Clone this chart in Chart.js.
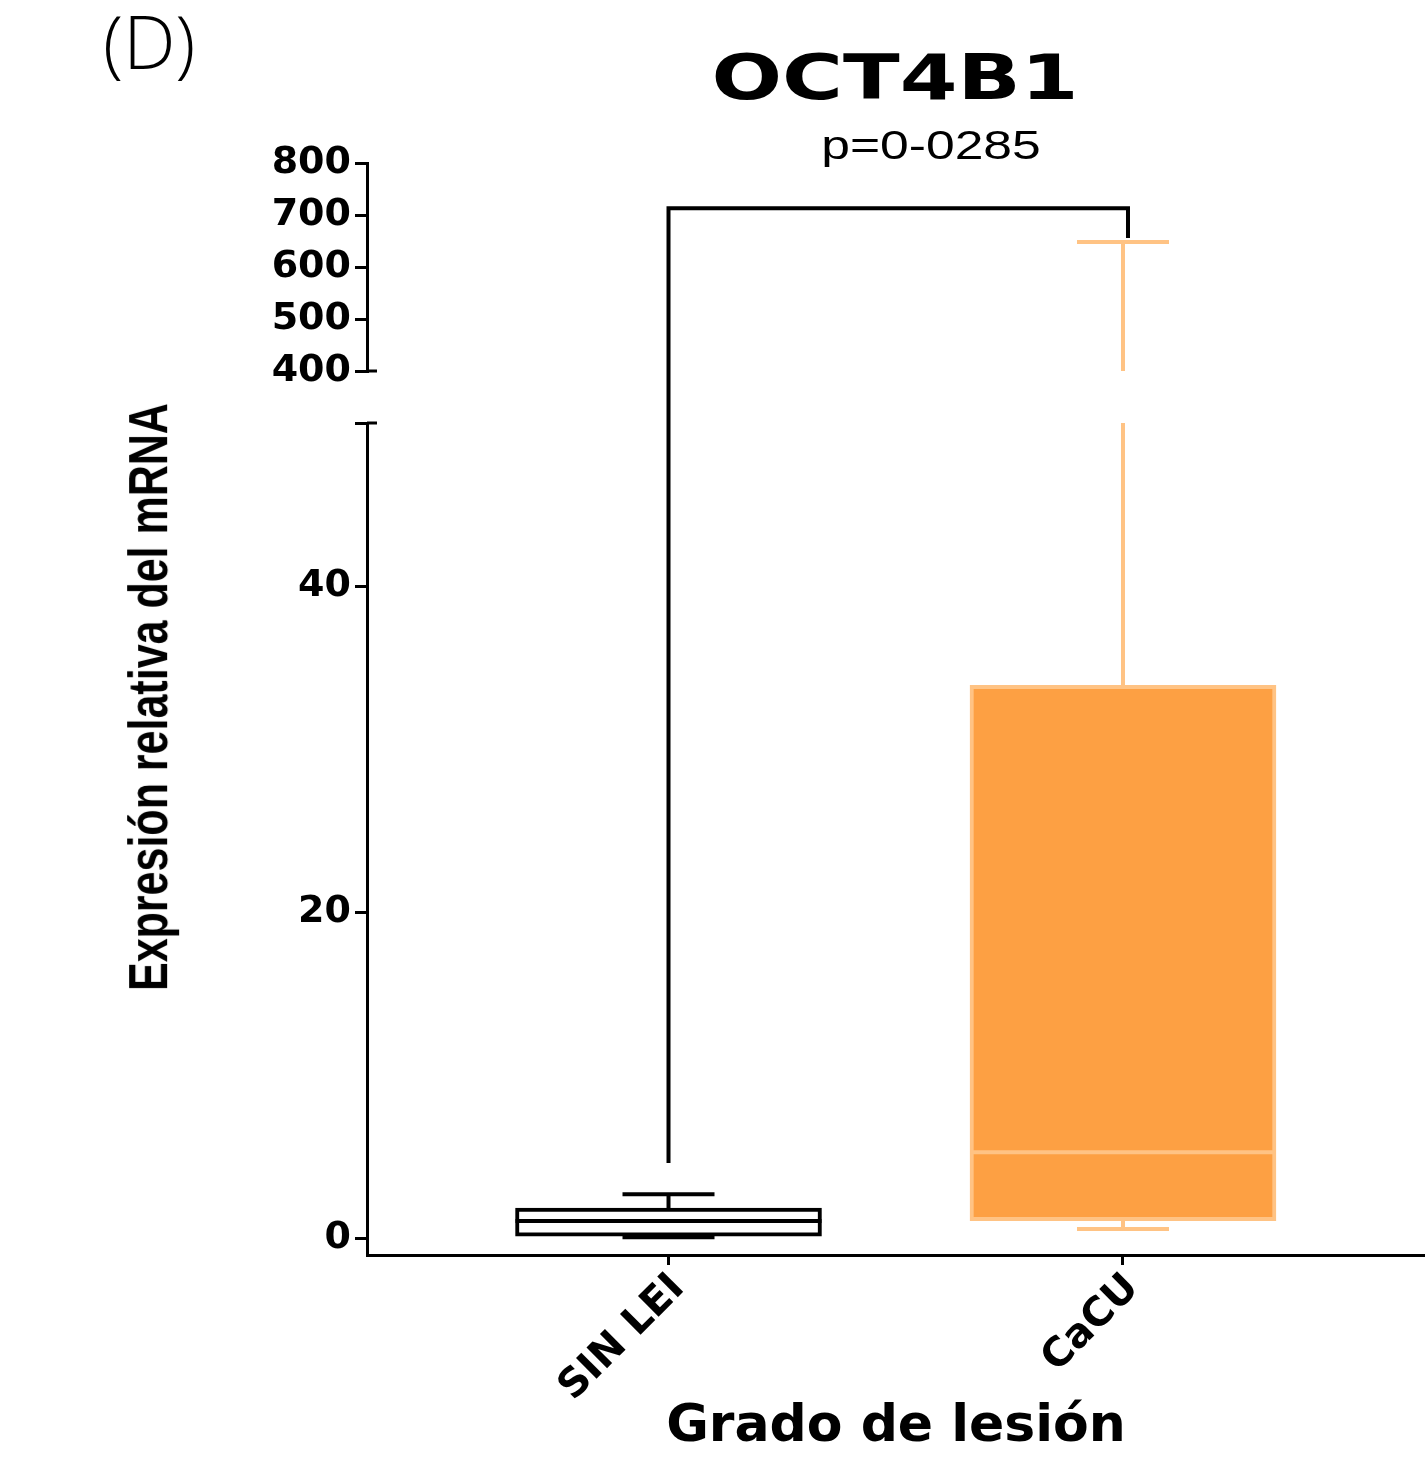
<!DOCTYPE html>
<html>
<head>
<meta charset="utf-8">
<title>OCT4B1</title>
<script src="https://cdn.jsdelivr.net/npm/chart.js@4.4.1/dist/chart.umd.min.js"></script>
<style>
    html, body { margin: 0; padding: 0; background: #fff; }
    #wrap { position: relative; width: 1425px; height: 1464px; overflow: hidden; }
    #wrap canvas { position: absolute; left: 0; top: 0; }
    .lbl { position: absolute; white-space: nowrap; line-height: 1; color: #000; }
    #panel { left: 103px; top: -10px; font: 300 74px "Open Sans", "Lato", sans-serif; }
    #title { left: 895px; top: 41px; font: bold 62px "DejaVu Sans", sans-serif; transform: translateX(-50%) scaleX(1.34); }
    #pval { left: 931px; top: 123px; font: 40px "Liberation Sans", Arial, sans-serif; transform: translateX(-50%) scaleX(1.29); }
    #ytitle { left: 148px; top: 697px; font: bold 43px "Liberation Sans", Arial, sans-serif; transform: translate(-50%, -50%) rotate(-90deg) scaleY(1.3); }
</style>
</head>
<body>
<div id="wrap">
    <canvas id="chart" width="1425" height="1464"></canvas>
    <div class="lbl" id="panel">(D)</div>
    <div class="lbl" id="title">OCT4B1</div>
    <div class="lbl" id="pval">p=0-0285</div>
    <div class="lbl" id="ytitle">Expresión relativa del mRNA</div>
</div>
<script>
// values
const categories = ['SIN LEI', 'CaCU'];
const whiskerMin = [0.05, 0.55];
const q1 = [0.12, 1.06];
const median = [1.04, 5.26];
const q3 = [1.84, 33.9];
const whiskerMax = [2.68, 648];

// broken y axis: lower segment and upper segment
const lowTicks = [0, 20, 40, 50];
const highTicks = [400, 500, 600, 700, 800];
const breakLow = 50;
const breakHigh = 400;

// significance bracket: left start, top, right end
const bracketY = [4.6, 713, 656];

const boxFill = ['#ffffff', '#fda043'];
const boxEdge = ['#000000', '#ffc384'];

const tickFont = { family: 'DejaVu Sans', weight: 'bold', size: 38 };

function axisStyle(extra) {
    return Object.assign({
        type: 'linear',
        position: 'left',
        stack: 'y',
        grid: { drawOnChartArea: false, drawTicks: true, tickLength: 12, color: '#000', lineWidth: 3 },
        border: { display: true, color: '#000', width: 3 },
        ticks: { color: '#000', font: tickFont, padding: 4, autoSkip: false },
        afterFit: s => { s.width = 367; }
    }, extra);
}

const boxPlotLines = {
    id: 'boxPlotLines',
    afterDatasetsDraw(chart) {
        const { ctx, scales } = chart;
        const x = scales.x, yLow = scales.yLow, yHigh = scales.yHigh;
        const bars = chart.getDatasetMeta(0).data;
        const seg = (px, a, b) => { ctx.beginPath(); ctx.moveTo(px, a); ctx.lineTo(px, b); ctx.stroke(); };
        const hline = (y, x0, x1) => { ctx.beginPath(); ctx.moveTo(x0, y); ctx.lineTo(x1, y); ctx.stroke(); };

        ctx.save();
        ctx.lineCap = 'butt';
        categories.forEach((c, i) => {
            const cx = x.getPixelForValue(i + 1);
            ctx.strokeStyle = boxEdge[i];
            ctx.lineWidth = 4;
            // upper whisker, split across the break when needed
            if (whiskerMax[i] > breakLow) {
                seg(cx, yLow.getPixelForValue(q3[i]), yLow.getPixelForValue(breakLow));
                seg(cx, yHigh.getPixelForValue(breakHigh), yHigh.getPixelForValue(whiskerMax[i]));
                hline(yHigh.getPixelForValue(whiskerMax[i]), cx - 46, cx + 46);
            } else {
                seg(cx, yLow.getPixelForValue(q3[i]), yLow.getPixelForValue(whiskerMax[i]));
                hline(yLow.getPixelForValue(whiskerMax[i]), cx - 46, cx + 46);
            }
            seg(cx, yLow.getPixelForValue(q1[i]), yLow.getPixelForValue(whiskerMin[i]));
            hline(yLow.getPixelForValue(whiskerMin[i]), cx - 46, cx + 46);
            // median
            const half = bars[i].width / 2;
            hline(yLow.getPixelForValue(median[i]), cx - half, cx + half);
        });

        // bracket
        const bx0 = x.getPixelForValue(1);
        const bx1 = x.getPixelForValue(2) + 5;
        ctx.strokeStyle = '#000';
        ctx.lineWidth = 4;
        ctx.lineJoin = 'miter';
        ctx.beginPath();
        ctx.moveTo(bx0, yLow.getPixelForValue(bracketY[0]));
        ctx.lineTo(bx0, yHigh.getPixelForValue(bracketY[1]));
        ctx.lineTo(bx1, yHigh.getPixelForValue(bracketY[1]));
        ctx.lineTo(bx1, yHigh.getPixelForValue(bracketY[2]));
        ctx.stroke();

        // ticks crossing the axis at the break
        ctx.lineWidth = 3;
        hline(yLow.getPixelForValue(breakLow), yLow.right, yLow.right + 10);
        hline(yHigh.getPixelForValue(breakHigh), yHigh.right, yHigh.right + 10);
        ctx.restore();
    }
};

const ctx = document.getElementById('chart').getContext('2d');
new Chart(ctx, {
    type: 'bar',
    data: {
        datasets: [{
            label: 'OCT4B1',
            data: categories.map((c, i) => ({ x: i + 1, y: [q1[i], q3[i]] })),
            backgroundColor: boxFill,
            borderColor: boxEdge,
            borderWidth: 4,
            borderSkipped: false,
            barThickness: 306,
            xAxisID: 'x',
            yAxisID: 'yLow'
        }]
    },
    options: {
        responsive: false,
        animation: false,
        devicePixelRatio: 1,
        layout: { padding: { top: 163, left: 0, right: 0, bottom: 0 } },
        plugins: { legend: { display: false }, tooltip: { enabled: false } },
        scales: {
            x: {
                type: 'linear',
                position: 'bottom',
                offset: false,
                min: 0.3366,
                max: 2.6645,
                afterBuildTicks: s => { s.ticks = categories.map((c, i) => ({ value: i + 1 })); },
                afterFit: s => { s.height = 209; },
                grid: { offset: false, drawOnChartArea: false, drawTicks: true, tickLength: 10, color: '#000', lineWidth: 3 },
                border: { display: true, color: '#000', width: 3 },
                ticks: {
                    autoSkip: false,
                    minRotation: 45,
                    maxRotation: 45,
                    padding: 0,
                    labelOffset: 10,
                    color: '#000',
                    font: { family: 'DejaVu Sans', weight: 'bold', size: 40 },
                    callback: v => categories[v - 1] || ''
                },
                title: {
                    display: true,
                    text: 'Grado de lesión',
                    color: '#000',
                    font: { family: 'DejaVu Sans', weight: 'bold', size: 52 },
                    padding: { top: 0, bottom: 5 }
                }
            },
            yLow: axisStyle({
                stackWeight: 832,
                weight: 1,
                min: -1.04,
                max: breakLow,
                afterBuildTicks: s => { s.ticks = lowTicks.map(v => ({ value: v })); },
                ticks: { color: '#000', font: tickFont, padding: 4, autoSkip: false, callback: v => (v === breakLow ? '' : v) }
            }),
            yGap: {
                type: 'linear',
                position: 'left',
                stack: 'y',
                stackWeight: 52,
                weight: 2,
                min: 0,
                max: 1,
                grid: { display: false },
                border: { display: false },
                ticks: { display: false },
                afterFit: s => { s.width = 367; }
            },
            yHigh: axisStyle({
                stackWeight: 208,
                weight: 3,
                min: breakHigh,
                max: 800,
                afterBuildTicks: s => { s.ticks = highTicks.map(v => ({ value: v })); }
            })
        }
    },
    plugins: [boxPlotLines]
});
</script>
</body>
</html>
